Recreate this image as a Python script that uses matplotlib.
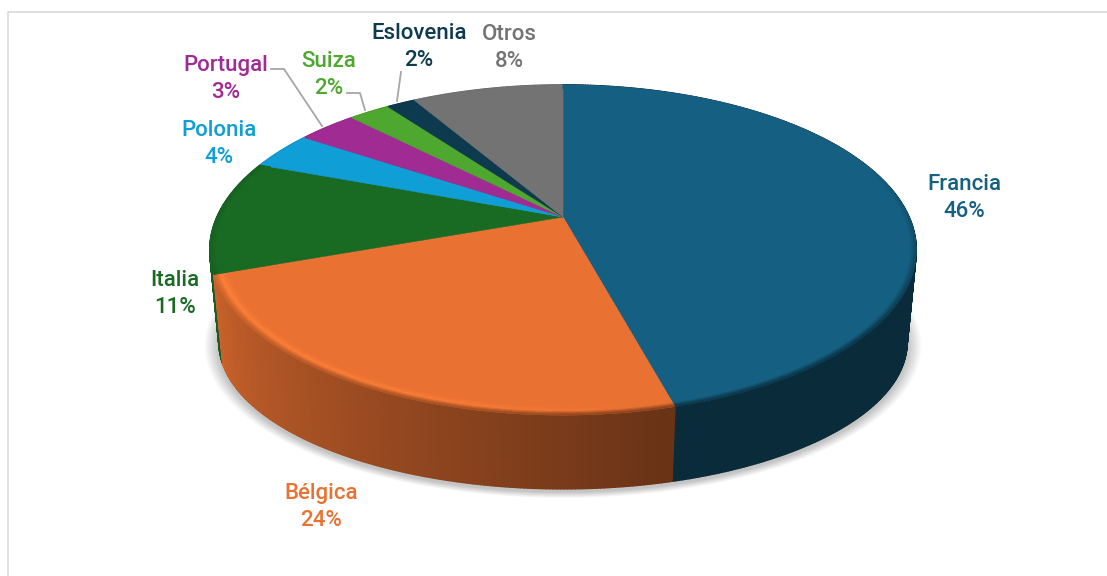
#!/usr/bin/env python
# Perspective 3D-look pie (exportaciones por destino). Everything is drawn in pixel
# coordinates of the picture; slice angles come from VALUES, the tilt from project().
import numpy as np
import matplotlib
matplotlib.use("Agg")
import matplotlib.pyplot as plt
from matplotlib.collections import PolyCollection
from matplotlib.colors import to_rgb
from matplotlib.patches import Polygon

COUNTRIES = ["Francia", "Bélgica", "Italia", "Polonia", "Portugal", "Suiza", "Eslovenia", "Otros"]
VALUES = [45.8, 23.7, 11.2, 3.7, 3.3, 2.3, 1.6, 8.4]
COLORS = ["#156082", "#E97132", "#196B24", "#0F9ED5", "#A02B93", "#4EA72E", "#0D3A4E", "#737373"]

LABEL_XY = {
    "Francia": (964, 198), "Bélgica": (321, 507), "Italia": (175, 294), "Polonia": (219, 144),
    "Portugal": (226, 79), "Suiza": (329, 75), "Eslovenia": (419, 47), "Otros": (509, 48),
}
LEADERS = [
    [(271, 69), (284, 69), (322, 126)],
    [(347, 93), (360, 93), (365, 110)],
    [(401, 72), (397, 101)],
]

CX, K = 563, 0.2
TOP = (346, 158.4, 217)      # half width, half height, apex y of the top face
BOTTOM = (337, 140.6, 313)   # same for the lower rim

plt.rcParams["font.family"] = ["Roboto", "DejaVu Sans"]


def project(theta, r, rim):
    # theta in degrees clockwise from 12 o'clock
    a, b, y0 = rim
    u = r * np.sin(np.radians(theta))
    v = r * np.cos(np.radians(theta))
    d = 1 + K * v
    return CX + a * u / d, y0 - b * v / d


def mix(c1, c2, t):
    return tuple((1 - t) * np.array(to_rgb(c1)) + t * np.array(to_rgb(c2)))


def wall_shade(theta):
    return np.interp(theta, [0, 166, 200, 252, 360], [0.43, 0.45, 0.62, 0.88, 0.9])


def quads(t0, t1, n=2):
    return np.linspace(t0, t1, max(n, int(abs(t1 - t0)) * 2 + 2))


fig = plt.figure(figsize=(11.07, 5.76), dpi=100)
ax = fig.add_axes([0, 0, 1, 1])
ax.set_xlim(0, 1107)
ax.set_ylim(576, 0)
ax.axis("off")

# frame of the chart area
ax.plot([8, 8, 1107], [576, 12, 12], color="#D9D9D9", lw=1.2, zorder=0)

# soft shadow under the lower rim
ring = np.linspace(0, 360, 361)
for i in range(12):
    sx, sy = project(ring, 1.0, BOTTOM)
    grow = 1 + 0.0035 * (12 - i)
    ax.add_patch(Polygon(np.c_[CX + (sx - CX) * grow, 340 + (sy - 340) * grow + 3],
                         facecolor="#000000", alpha=0.018, lw=0, zorder=1))

edges = np.cumsum([0] + VALUES) * 3.6

# side wall, back to front
polys, cols, depth = [], [], []
for i, color in enumerate(COLORS):
    ts = quads(edges[i], edges[i + 1])
    for t0, t1 in zip(ts[:-1], ts[1:]):
        x0, y0 = project(t0, 1.0, TOP)
        x1, y1 = project(t1, 1.0, TOP)
        x2, y2 = project(t1, 1.0, BOTTOM)
        x3, y3 = project(t0, 1.0, BOTTOM)
        polys.append([(x0, y0), (x1, y1), (x2, y2), (x3, y3)])
        cols.append(tuple(np.array(to_rgb(color)) * wall_shade((t0 + t1) / 2)))
        depth.append(np.cos(np.radians((t0 + t1) / 2)))
order = np.argsort(depth)[::-1]
ax.add_collection(PolyCollection([polys[j] for j in order], facecolors=[cols[j] for j in order],
                                 edgecolors=[cols[j] for j in order], linewidths=1.2, zorder=2))

# top face
for i, color in enumerate(COLORS):
    ts = quads(edges[i], edges[i + 1])
    x, y = project(ts, 1.0, TOP)
    pts = np.r_[[(CX, TOP[2])], np.c_[x, y]]
    ax.add_patch(Polygon(pts, facecolor=color, edgecolor=color, lw=0.4, zorder=3))

# bevel along the rim: highlight on the lit side, fade to the wall colour elsewhere
radii = np.linspace(0.962, 1.0, 9)
polys, cols = [], []
for i, color in enumerate(COLORS[:3]):
    ts = quads(edges[i], edges[i + 1])
    for t0, t1 in zip(ts[:-1], ts[1:]):
        t = (t0 + t1) / 2
        base = to_rgb(color)
        wall = tuple(np.array(base) * wall_shade(t))
        front = np.clip((t - 70) / 60, 0, 1) if i == 0 else 1.0
        glow = np.interp(t, [166, 195, 252], [0, 0.75, 1]) if i == 1 else 0.0
        for r0, r1 in zip(radii[:-1], radii[1:]):
            s = ((r0 + r1) / 2 - radii[0]) / (1 - radii[0])
            c = mix(base, "#FF8038", glow * np.interp(s, [0, 0.55, 1], [0, 1, 0.6]))
            c = mix(c, wall, front * np.interp(s, [0.55, 1], [0, 0.85]))
            x0, y0 = project(t0, r0, TOP)
            x1, y1 = project(t1, r0, TOP)
            x2, y2 = project(t1, r1, TOP)
            x3, y3 = project(t0, r1, TOP)
            polys.append([(x0, y0), (x1, y1), (x2, y2), (x3, y3)])
            cols.append(c)
ax.add_collection(PolyCollection(polys, facecolors=cols, edgecolors=cols, linewidths=0.5, zorder=4))

# leader lines
for line in LEADERS:
    ax.plot(*zip(*line), color="#A6A6A6", lw=1.3, zorder=5)

# labels
for name, val, color in zip(COUNTRIES, VALUES, COLORS):
    lx, ly = LABEL_XY[name]
    ax.text(lx, ly, f"{name}\n{val:.0f}%", ha="center", va="center", fontsize=16,
            fontweight="medium", color=color, linespacing=1.42, zorder=6)

fig.savefig("out.png", dpi=100)
plt.close(fig)
